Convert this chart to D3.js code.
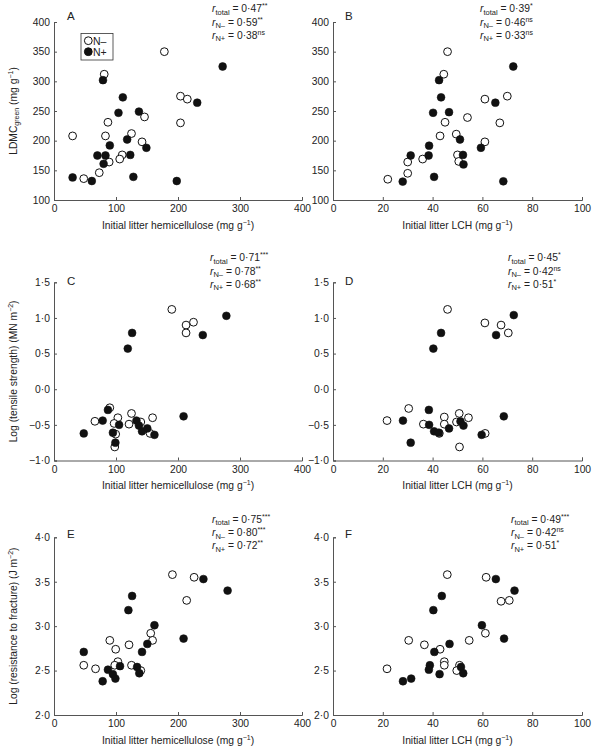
<!DOCTYPE html>
<html><head><meta charset="utf-8">
<script src="https://cdn.jsdelivr.net/npm/d3@7"></script>
<style>
body{margin:0;background:#fff}
text{font-family:"Liberation Sans",Arial,Helvetica,sans-serif;fill:#222}
</style>
</head><body>
<svg id="chart" width="593" height="748"></svg>
<script>
// ---------- DATA ----------
const hemiTicks = [0, 100, 200, 300, 400];
const lchTicks = [0, 20, 40, 60, 80, 100];
const ldmcTicks = [100, 150, 200, 250, 300, 350, 400];
const tensileTicks = [-1, -0.5, 0, 0.5, 1, 1.5];
const fractureTicks = [2, 2.5, 3, 3.5, 4];

// Panel A: hemicellulose vs LDMC
const A_open = [[178,350],[81,312],[204,275],[215,270],[146,240],[204,230],[87,231],[30,208],[83,208],[125,212],[142,198],[110,176],[106,169],[89,164],[73,146],[48,136]];
const A_filled = [[272,325],[79,302],[111,273],[231,264],[104,247],[137,249],[90,192],[118,202],[149,188],[70,175],[83,175],[80,161],[123,176],[30,138],[61,132],[128,139],[198,132]];
// Panel B: LCH vs LDMC
const B_open = [[46,350],[44.5,312],[61,270],[70,275],[54,239],[45,231],[67,230],[43,208],[49.5,211],[61,198],[50,176],[50.5,165],[36,169],[30,164],[30,145],[22,135]];
const B_filled = [[72.4,325],[42.6,302],[43.4,273],[65.2,264],[40.2,247],[46.6,248],[51,202],[38.6,191.5],[59.4,188],[31.2,175],[38.4,175],[52.2,176],[52.4,160],[28,131],[40.6,139],[68.4,131.5]];
// Panel C: hemicellulose vs log tensile strength
const C_open = [[190,1.12],[213,0.90],[225,0.94],[213,0.79],[90,-0.26],[66,-0.45],[103,-0.40],[97,-0.48],[125,-0.34],[121,-0.49],[140,-0.46],[159,-0.40],[99.5,-0.63],[155,-0.62],[98,-0.81]];
const C_filled = [[278,1.03],[126,0.79],[240,0.76],[119,0.57],[209,-0.38],[87,-0.29],[78.5,-0.44],[48,-0.62],[95,-0.61],[105,-0.50],[133,-0.44],[137,-0.51],[142,-0.59],[150.5,-0.55],[162,-0.64],[99,-0.75]];
// Panel D: LCH vs log tensile strength
const D_open = [[46,1.12],[61,0.93],[67.5,0.90],[70.4,0.79],[30.4,-0.27],[21.7,-0.44],[36.3,-0.49],[44.7,-0.39],[44.7,-0.49],[50.7,-0.34],[54.4,-0.40],[49.6,-0.46],[42.7,-0.62],[61.1,-0.62],[50.8,-0.81]];
const D_filled = [[72.6,1.04],[43.4,0.79],[65.5,0.76],[40.3,0.57],[68.6,-0.38],[38.5,-0.29],[28.1,-0.44],[31.2,-0.75],[38.6,-0.50],[40.6,-0.59],[42.5,-0.61],[46.6,-0.55],[51.2,-0.45],[52.4,-0.51],[59.7,-0.64]];
// Panel E: hemicellulose vs log resistance to fracture
const E_open = [[191,3.58],[226,3.55],[214,3.29],[156,2.92],[159,2.84],[90,2.84],[121,2.79],[99.5,2.74],[48,2.56],[67,2.52],[103,2.60],[98,2.56],[125,2.56],[140,2.50]];
const E_filled = [[241,3.53],[280,3.40],[126,3.34],[120,3.18],[162,3.01],[209,2.86],[150.5,2.80],[142,2.71],[48,2.71],[106.5,2.55],[87,2.51],[95,2.46],[99,2.41],[78.5,2.38],[134,2.54],[137.6,2.47]];
// Panel F: LCH vs log resistance to fracture
const F_open = [[45.9,3.58],[61.5,3.55],[67.5,3.28],[70.8,3.29],[61.2,2.92],[54.7,2.84],[30.4,2.84],[36.7,2.79],[43,2.74],[21.7,2.52],[44.7,2.60],[44.7,2.56],[50.8,2.56],[49.7,2.50]];
const F_filled = [[65.4,3.53],[72.9,3.40],[43.7,3.34],[40.3,3.18],[59.8,3.01],[68.7,2.86],[46.8,2.80],[40.7,2.71],[51.4,2.54],[52.3,2.47],[38.9,2.56],[38.5,2.51],[42.8,2.46],[31.4,2.41],[28.1,2.38]];

// Correlation statistics: [value, significance] for total, N−, N+
const statsA = [["0·47","**"],["0·59","**"],["0·38","ns"]];
const statsB = [["0·39","*"],["0·46","ns"],["0·33","ns"]];
const statsC = [["0·71","***"],["0·78","**"],["0·68","**"]];
const statsD = [["0·45","*"],["0·42","ns"],["0·51","*"]];
const statsE = [["0·75","***"],["0·80","***"],["0·72","**"]];
const statsF = [["0·49","***"],["0·42","ns"],["0·51","*"]];
const statSubs = ["total","N–","N+"];
const panelLetters = ["A","B","C","D","E","F"];
const legendLabels = ["N–","N+"];

// ---------- LAYOUT ----------
const svg = d3.select("#chart");
const cols = [{x0:54, x1:302, ticks:hemiTicks, dom:[0,400], title:"hemicellulose"},
              {x0:333, x1:582, ticks:lchTicks, dom:[0,100], title:"LCH"}];
const rows = [{y0:22, y1:200, ticks:ldmcTicks, dom:[100,400], kind:"ldmc"},
              {y0:282.3, y1:460.5, ticks:tensileTicks, dom:[-1,1.5], kind:"tens"},
              {y0:537.3, y1:715, ticks:fractureTicks, dom:[2,4], kind:"frac"}];
const panels = [
  {r:0,c:0,open:A_open,filled:A_filled,stats:statsA,sx:212,sy:[12,25.5,38.5],lx:67,ly:20},
  {r:0,c:1,open:B_open,filled:B_filled,stats:statsB,sx:480,sy:[12,25.5,38.5],lx:345,ly:20},
  {r:1,c:0,open:C_open,filled:C_filled,stats:statsC,sx:210,sy:[261,274.5,287.5],lx:67,ly:285},
  {r:1,c:1,open:D_open,filled:D_filled,stats:statsD,sx:508,sy:[261,274.5,287.5],lx:345,ly:285},
  {r:2,c:0,open:E_open,filled:E_filled,stats:statsE,sx:212,sy:[522.5,536,549],lx:67,ly:538},
  {r:2,c:1,open:F_open,filled:F_filled,stats:statsF,sx:511,sy:[522.5,536,549],lx:345,ly:538}
];
const fmtY = {
  ldmc: d => String(d),
  tens: d => d3.format(".1f")(d).replace("-","−").replace(".","·"),
  frac: d => d3.format(".1f")(d).replace(".","·")
};
const R = 3.9;
const axisColor = "#555";
const FS = "10.3px";

panels.forEach((p,i) => {
  const col = cols[p.c], row = rows[p.r];
  const x = d3.scaleLinear().domain(col.dom).range([col.x0, col.x1]);
  const y = d3.scaleLinear().domain(row.dom).range([row.y1, row.y0]);
  const g = svg.append("g");

  // axes
  const xa = g.append("g").attr("transform",`translate(0,${row.y1})`)
    .call(d3.axisBottom(x).tickValues(col.ticks).tickSize(-3).tickPadding(5).tickFormat(d=>String(d)));
  const ya = g.append("g").attr("transform",`translate(${col.x0},0)`)
    .call(d3.axisLeft(y).tickValues(row.ticks).tickSize(-3).tickPadding(4).tickFormat(fmtY[row.kind]));
  [xa,ya].forEach(a=>{
    a.selectAll("path").attr("stroke",axisColor).attr("stroke-width",1);
    a.selectAll("line").attr("stroke",axisColor);
    a.selectAll("text").style("font-size",FS).attr("fill","#222")
      .style("font-family",'"Liberation Sans",Arial,sans-serif');
  });

  // points
  g.selectAll("circle.o").data(p.open).join("circle").attr("class","o")
    .attr("cx",d=>x(d[0])).attr("cy",d=>y(d[1])).attr("r",R)
    .attr("fill","#fff").attr("stroke","#111").attr("stroke-width",1);
  g.selectAll("circle.f").data(p.filled).join("circle").attr("class","f")
    .attr("cx",d=>x(d[0])).attr("cy",d=>y(d[1])).attr("r",R)
    .attr("fill","#111").attr("stroke","#111").attr("stroke-width",0.6);

  // panel letter
  g.append("text").attr("x",p.lx).attr("y",p.ly).style("font-size","11.5px").text(panelLetters[i]);

  // stats
  p.stats.forEach((s,k)=>{
    const t = g.append("text").attr("x",p.sx).attr("y",p.sy[k]).style("font-size","10.3px");
    t.append("tspan").style("font-style","italic").text("r");
    t.append("tspan").attr("dy",2.5).style("font-size","7.5px").text(statSubs[k]);
    t.append("tspan").attr("dy",-2.5).text(" = " + s[0]);
    t.append("tspan").attr("dy",-3.8).style("font-size","7px").text(s[1]);
  });

  // x title (every panel)
  const xt = g.append("text").attr("x",(col.x0+col.x1)/2).attr("y",row.y1+28.5)
    .attr("text-anchor","middle").style("font-size",FS);
  xt.append("tspan").text(`Initial litter ${col.title} (mg g`);
  xt.append("tspan").attr("dy",-3.8).style("font-size","7px").text("−1");
  xt.append("tspan").attr("dy",3.8).text(")");
});

// y titles
const ytitles = [
  {row:0, parts:[["LDMC",0,null],["green",2.5,"7px"],[" (mg g",-2.5,null],["−1",-3.8,"7px"],[")",3.8,null]]},
  {row:1, parts:[["Log (tensile strength) (MN m",0,null],["−2",-3.8,"7px"],[")",3.8,null]]},
  {row:2, parts:[["Log (resistance to fracture) (J m",0,null],["−2",-3.8,"7px"],[")",3.8,null]]}
];
ytitles.forEach(yt=>{
  const row = rows[yt.row];
  const cy = (row.y0+row.y1)/2;
  const t = svg.append("text").attr("transform",`translate(16.5,${cy}) rotate(-90)`)
    .attr("text-anchor","middle").style("font-size",FS);
  yt.parts.forEach(pt=>{
    const ts = t.append("tspan").text(pt[0]);
    if (pt[1]) ts.attr("dy",pt[1]);
    if (pt[2]) ts.style("font-size",pt[2]);
  });
});

// legend in panel A
const lg = svg.append("g");
lg.append("rect").attr("x",81).attr("y",33.5).attr("width",32).attr("height",26.5)
  .attr("fill","#fff").attr("stroke","#333").attr("stroke-width",0.8);
legendLabels.forEach((lab,k)=>{
  const cy = 40.7 + k*11;
  lg.append("circle").attr("cx",88.3).attr("cy",cy).attr("r",R)
    .attr("fill",k===0?"#fff":"#111").attr("stroke","#111").attr("stroke-width",1);
  lg.append("text").attr("x",93).attr("y",cy+3.8).style("font-size","10.5px").text(lab);
});
</script>
</body></html>
